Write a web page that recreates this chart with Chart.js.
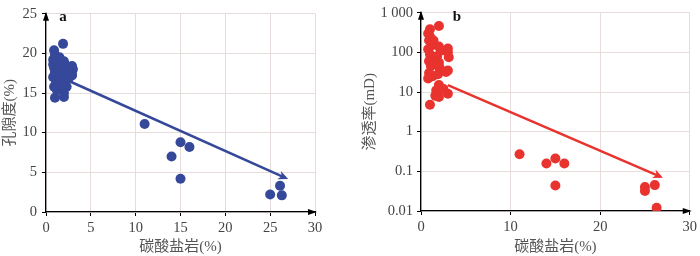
<!doctype html>
<html lang="zh">
  <head>
    <meta charset="utf-8">
    <title>碳酸盐岩与孔隙度、渗透率</title>
    <style>
      * { margin: 0; padding: 0; }
      body { width: 700px; height: 256px; background: #fff; position: relative; overflow: hidden; }
      .box { position: absolute; top: 0; width: 350px; height: 256px; }
      #boxA { left: 0; }
      #boxB { left: 350px; }
    </style>
  </head>
  <body>
    <div class="box" id="boxA"><canvas id="chartA"></canvas></div>
    <div class="box" id="boxB"><canvas id="chartB"></canvas></div>
    <script src="https://cdn.jsdelivr.net/npm/chart.js"></script>
    <script>
    // data (a) porosity vs carbonate
    const carbA = [1.0, 2.0, 1.9, 0.9, 1.0, 0.8, 1.2, 0.9, 1.0, 0.8, 1.1, 0.9, 1.3, 1.5, 1.6, 2.0, 2.2, 1.8, 2.0, 2.1, 1.9, 2.3, 2.0, 2.9, 3.0, 2.9, 2.9, 2.6, 2.5, 2.4, 1.5,
                   1.4, 1.3, 1.7, 2.5, 1.2, 0.8, 1.6,
                   11.0, 15.0, 16.0, 14.0, 15.0, 25.0, 26.1, 26.3];
    const porosity = [14.4, 14.5, 21.2, 20.4, 19.8, 19.2, 18.7, 18.2, 17.6, 17.0, 16.5, 15.8, 16.0, 18.0, 17.0, 19.0, 18.5, 17.8, 17.2, 16.4, 15.6, 15.8, 15.0, 18.4, 18.0, 17.4, 17.2, 17.8, 16.8, 18.2, 19.5,
                      17.5, 19.0, 16.2, 17.4, 15.4, 18.6, 18.6,
                      11.1, 8.8, 8.2, 7.0, 4.2, 2.2, 3.3, 2.1];
    const trendAX = [2.0, 26.7];
    const trendAY = [16.8, 4.3];

    // data (b) permeability vs carbonate
    const carbB = [1.0, 2.0, 1.0, 0.8, 1.0, 0.9, 1.2, 0.8, 1.0, 0.9, 1.1, 0.9, 0.8, 1.3, 2.0, 2.2, 1.8, 2.0, 2.1, 1.9, 2.0, 1.7, 1.6, 2.0, 3.0, 3.0, 3.0, 3.1, 3.0, 2.8, 2.5, 1.5, 1.4,
                   11.0, 14.0, 15.0, 16.0, 15.0, 25.0, 25.0, 26.1, 26.3];
    const permeability = [4.8, 460, 380, 300, 250, 200, 150, 120, 90, 60, 45, 30, 22, 25, 140, 110, 80, 55, 40, 28, 15, 11, 8, 7.5, 9, 125, 100, 75, 35, 32, 12, 60, 200,
                          0.27, 0.157, 0.21, 0.157, 0.044, 0.04, 0.032, 0.045, 0.012];
    const trendBX = [3.0, 26.7];
    const trendBY = [15, 0.074];

    const xTicksA = [0, 5, 10, 15, 20, 25, 30];
    const yTicksA = [0, 5, 10, 15, 20, 25];
    const xTicksB = [0, 10, 20, 30];
    const yTicksB = [0.01, 0.1, 1, 10, 100, 1000];
    const yLabelsB = ['0.01', '0.1', '1', '10', '100', '1 000'];

    const blue = '#36489a';
    const red = '#e8332e';
    const gridColor = '#e6dcdc';
    const tickFont = { family: "'Liberation Serif', serif", size: 14.5 };
    const titleFont = { family: "'Liberation Serif', 'Noto Sans CJK SC', serif", size: 15 };

    function pts(xs, ys) {
      return xs.map((x, i) => ({ x: x, y: ys[i] }));
    }

    // arrow heads on axes and trend line, plus panel letter
    const arrowPlugin = {
      id: 'arrows',
      afterDatasetsDraw(chart, args, opts) {
        const ctx = chart.ctx;
        const a = chart.chartArea;
        ctx.save();
        // trend arrow head
        const meta = chart.getDatasetMeta(0);
        const p0 = meta.data[0], p1 = meta.data[1];
        const ang = Math.atan2(p1.y - p0.y, p1.x - p0.x);
        ctx.fillStyle = opts.color;
        ctx.beginPath();
        ctx.moveTo(p1.x + 3 * Math.cos(ang), p1.y + 3 * Math.sin(ang));
        ctx.lineTo(p1.x - 7 * Math.cos(ang) + 4.5 * Math.sin(ang), p1.y - 7 * Math.sin(ang) - 4.5 * Math.cos(ang));
        ctx.lineTo(p1.x - 4 * Math.cos(ang), p1.y - 4 * Math.sin(ang));
        ctx.lineTo(p1.x - 7 * Math.cos(ang) - 4.5 * Math.sin(ang), p1.y - 7 * Math.sin(ang) + 4.5 * Math.cos(ang));
        ctx.closePath();
        ctx.fill();
        // axis arrow heads
        ctx.fillStyle = '#000';
        ctx.beginPath();
        ctx.moveTo(a.left, a.top - 2);
        ctx.lineTo(a.left - 3, a.top + 7);
        ctx.lineTo(a.left + 3, a.top + 7);
        ctx.closePath();
        ctx.fill();
        ctx.beginPath();
        ctx.moveTo(a.right + 2, a.bottom);
        ctx.lineTo(a.right - 7, a.bottom - 3);
        ctx.lineTo(a.right - 7, a.bottom + 3);
        ctx.closePath();
        ctx.fill();
        // panel letter
        ctx.fillStyle = '#111';
        ctx.font = "bold 15px 'Liberation Serif', serif";
        ctx.textAlign = 'center';
        ctx.textBaseline = 'middle';
        ctx.fillText(opts.letter, a.left + opts.letterDx, 17);
        ctx.restore();
      }
    };

    function makeChart(id, cfg) {
      return new Chart(document.getElementById(id), {
        type: 'scatter',
        data: {
          datasets: [{
            type: 'line',
            data: cfg.trend,
            borderColor: cfg.color,
            borderWidth: 2.5,
            pointRadius: 0,
            order: 2
          }, {
            data: cfg.points,
            backgroundColor: cfg.color,
            borderWidth: 0,
            pointRadius: 5,
            pointHoverRadius: 5,
            order: 1
          }]
        },
        options: {
          responsive: false,
          animation: false,
          maintainAspectRatio: false,
          layout: { padding: cfg.padding },
          plugins: {
            legend: { display: false },
            tooltip: { enabled: false },
            arrows: { color: cfg.color, letter: cfg.letter, letterDx: cfg.letterDx }
          },
          scales: {
            x: {
              type: 'linear',
              min: 0,
              max: 30,
              afterBuildTicks: s => { s.ticks = cfg.xTicks.map(v => ({ value: v })); },
              afterFit: s => { s.height = cfg.xHeight; },
              grid: { color: gridColor, tickColor: '#000', tickLength: 4 },
              border: { color: '#000', width: 1.3 },
              ticks: { font: tickFont, color: '#444', padding: 3, maxRotation: 0 },
              title: { display: true, text: '碳酸盐岩(%)', font: titleFont, color: '#555', padding: { top: 0, bottom: 0 } }
            },
            y: {
              type: cfg.yType,
              min: cfg.yMin,
              max: cfg.yMax,
              afterBuildTicks: s => { s.ticks = cfg.yTicks.map(v => ({ value: v })); },
              afterFit: s => { s.width = cfg.yWidth; },
              grid: { color: gridColor, tickColor: '#000', tickLength: 4 },
              border: { color: '#000', width: 1.3 },
              ticks: { font: tickFont, color: '#444', padding: cfg.yPad, callback: cfg.yLabel },
              title: { display: true, text: cfg.yTitle, font: titleFont, color: '#555', padding: { top: cfg.yTitlePad, bottom: 0 } }
            }
          }
        },
        plugins: [arrowPlugin]
      });
    }

    document.getElementById('chartA').width = 350;
    document.getElementById('chartA').height = 256;
    document.getElementById('chartB').width = 350;
    document.getElementById('chartB').height = 256;

    makeChart('chartA', {
      color: blue,
      points: pts(carbA, porosity),
      trend: pts(trendAX, trendAY),
      padding: { top: 6, right: 35, left: 0, bottom: 0 },
      xTicks: xTicksA,
      yTicks: yTicksA,
      xHeight: 44,
      yWidth: 46,
      yPad: 5,
      yType: 'linear',
      yMin: 0,
      yMax: 25,
      yLabel: v => v,
      yTitle: '孔隙度(%)',
      yTitlePad: 1,
      letter: 'a',
      letterDx: 17
    });

    makeChart('chartB', {
      color: red,
      points: pts(carbB, permeability),
      trend: pts(trendBX, trendBY),
      padding: { top: 7, right: 9, left: 0, bottom: 0 },
      xTicks: xTicksB,
      yTicks: yTicksB,
      xHeight: 45,
      yWidth: 71,
      yPad: 4,
      yType: 'logarithmic',
      yMin: 0.01,
      yMax: 1000,
      yLabel: (v, i) => yLabelsB[i],
      yTitle: '渗透率(mD)',
      yTitlePad: 11,
      letter: 'b',
      letterDx: 36
    });
    </script>
  </body>
</html>
